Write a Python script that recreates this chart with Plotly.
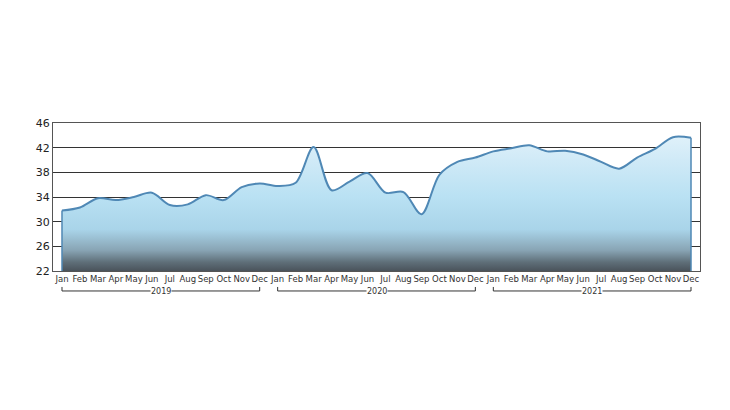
import plotly.graph_objects as go

years = ["2019", "2020", "2021"]
months = ["Jan", "Feb", "Mar", "Apr", "May", "Jun", "Jul", "Aug", "Sep", "Oct", "Nov", "Dec"]
values_2019 = [31.8, 32.3, 33.8, 33.5, 34.0, 34.7, 32.7, 32.8, 34.3, 33.5, 35.6, 36.2]
values_2020 = [35.8, 36.3, 42.1, 35.1, 36.5, 37.9, 34.7, 34.8, 31.2, 37.6, 39.7, 40.4]
values_2021 = [41.4, 41.9, 42.4, 41.4, 41.5, 40.9, 39.7, 38.6, 40.4, 41.8, 43.7, 43.6]
y_ticks = [22, 26, 30, 34, 38, 42, 46]

values = values_2019 + values_2020 + values_2021
n = len(values)
xs = list(range(n))
tick_text = months * len(years)
ymin, ymax = y_ticks[0], y_ticks[-1]

LINE = "#4f88b5"
FONT = "DejaVu Sans"

fig = go.Figure()
fig.add_trace(go.Scatter(
    x=xs, y=values, mode="lines",
    line=dict(color=LINE, width=2, shape="spline", smoothing=0.9),
    fill="tozeroy",
    fillgradient=dict(
        type="vertical", start=ymin, stop=ymax,
        colorscale=[[0, "#4a535b"], [0.06, "#5f6f79"], [0.14, "#88a4b4"],
                    [0.28, "#a9d4e9"], [0.5, "#b9e1f3"], [0.75, "#d0eaf7"],
                    [1, "#e8f5fb"]],
    ),
    hoverinfo="skip", showlegend=False,
))
# vertical edges of the area
fig.add_trace(go.Scatter(
    x=[xs[0], xs[0], None, xs[-1], xs[-1]],
    y=[ymin, values[0], None, ymin, values[-1]],
    mode="lines", line=dict(color=LINE, width=1.5),
    hoverinfo="skip", showlegend=False,
))

# year brackets
yb, yt = -0.135, -0.108
for i, yr in enumerate(years):
    a, b = i * 12, i * 12 + 11
    fig.add_shape(type="line", xref="x", yref="paper", x0=a, x1=b, y0=yb, y1=yb,
                  line=dict(color="#333", width=1))
    fig.add_shape(type="line", xref="x", yref="paper", x0=a, x1=a, y0=yb, y1=yt,
                  line=dict(color="#333", width=1))
    fig.add_shape(type="line", xref="x", yref="paper", x0=b, x1=b, y0=yb, y1=yt,
                  line=dict(color="#333", width=1))
    fig.add_annotation(x=(a + b) / 2, y=yb, xref="x", yref="paper", text=yr,
                       showarrow=False, bgcolor="white", borderpad=0,
                       yanchor="middle", yshift=-1,
                       font=dict(family=FONT, size=8, color="#333"))

fig.update_xaxes(
    range=[-0.5, n - 0.5], tickmode="array", tickvals=xs, ticktext=tick_text,
    tickangle=0, showgrid=False, zeroline=False, automargin=False,
    showline=True, mirror=True, linecolor="#555", linewidth=1,
    tickfont=dict(family=FONT, size=8.5, color="#333"), ticks="", ticklen=0,
)
fig.update_yaxes(
    range=[ymin, ymax], tickvals=y_ticks, showgrid=True, gridcolor="#333",
    gridwidth=1, zeroline=False, showline=True, mirror=True, linecolor="#555",
    linewidth=1, tickfont=dict(family=FONT, size=11, color="#222"), ticks="",
    automargin=False,
)
fig.update_layout(
    width=730, height=410, margin=dict(l=53, r=30, t=123, b=139),
    plot_bgcolor="white", paper_bgcolor="white",
)
fig.write_html("out.html", config={"displayModeBar": False},
               post_script="document.body.style.margin='0';document.body.style.overflow='hidden';")
